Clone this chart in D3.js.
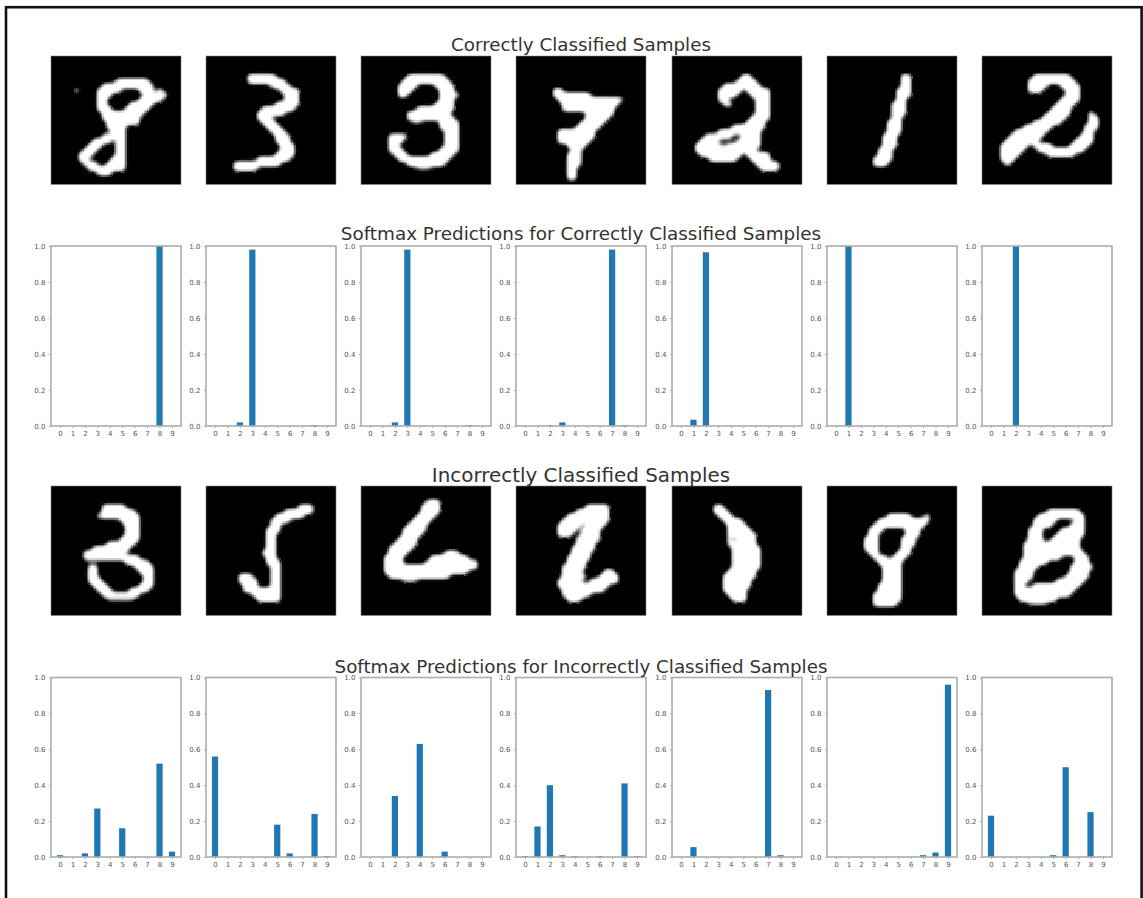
<!DOCTYPE html>
<html><head><meta charset="utf-8">
<script src="https://cdn.jsdelivr.net/npm/d3@7"></script>
<style>html,body{margin:0;padding:0;background:#fff;overflow:hidden}svg{display:block}</style>
</head><body><div id="chart"></div>
<script>
// Class labels and titles
const classes = [0,1,2,3,4,5,6,7,8,9];
const yTicks = [0,0.2,0.4,0.6,0.8,1.0];
const titles = ["Correctly Classified Samples","Softmax Predictions for Correctly Classified Samples","Incorrectly Classified Samples","Softmax Predictions for Incorrectly Classified Samples"];

// Softmax predictions
const correctPreds = [
 [0,0,0,0,0,0,0,0,1.0,0],
 [0,0,.02,.98,0,0,0,0,.005,0],
 [0,0,.02,.98,0,0,0,0,.005,0],
 [0,0,.005,.02,0,0,0,.98,.005,0],
 [0,.035,.965,0,0,0,0,0,0,0],
 [0,1.0,0,0,0,0,0,0,0,0],
 [0,0,1.0,0,0,0,0,0,0,0]
];
const incorrectPreds = [
 [.01,0,.02,.27,0,.16,0,0,.52,.03],
 [.56,0,0,0,0,.18,.02,0,.24,.005],
 [0,0,.34,0,.63,0,.03,0,0,0],
 [.005,.17,.40,.01,.005,0,.005,0,.41,.005],
 [0,.055,0,0,0,0,0,.93,.01,0],
 [0,0,0,0,0,0,0,.01,.025,.96],
 [.23,0,0,0,0,.01,.50,0,.25,0]
];

// 28x28 digit images: one entry per row, lit column spans; "g" marks a dim pixel
const correctDigits = [
 "|||||14-20|11-21|5,10-14,19-21,23|10-12,20-24|10-11,19-23|10-11,17-21|10-12,16-20|11-19|11-18|12-18|12-15|13-15|11-15|9-12,14-15|8-10,14-15|7-9,14-15|6-8,14-15|6-7,13-15|7-9,12-15|8-15|10-12",
 "||||9-14|9-16|14-17|16-19|17-19|17-19|15-19|12-18|11-16|11-13|12-14|13-15|14-16|15-17|15-17|16-18|16-18|15-18|11-17|6-15|6-10",
 "||||10-17|9-18|8-11,16-19|8-10,17-19|8-9,17-20|17-19|16-19|12-19|10-18|10-19|11g,12g,17-20|17-20|18-20|6-9,18-20|6-8,18-20|6-7,18-20|6-8,17-20|7-9,15-19|8-18|10-17|12g-14g",
 "|||||||8-9|8-15|9-22|10-21|10-20|15-20|15-19|14-18|13-17|9-16|9-16|9-15|11-14|12-13|11-13|11-13|11-13|11-12|11-12|11-12",
 "||||15-16|14-17|11-18|10-14,16-20|10-13,17-20|10-11,18-20|11-12,18-20|18-20|18-20|17-20|16-19|13-19|10-18|7-12,15-18|6-9,14-18|5-9,10g,11g,12-18|5-17|6-14,16-20|8-13,17-20|18-22|19-22",
 "||||16-17|16-17|16-17|15-17|15-17|15-16|14-16|14-16|14-16|14-15|13-15|13-15|13-15|12-14|12-14|12-14|11-13|11-13|10-13|10-12",
 "||||11-18|10-19|10-13,17-20|10-12,18-20|18-20|17-20|16-19|15-18|14-18,23|13-17,23-24|11-16,23-24|9-14,22-24|7-13,22-23|6-12,21-23|5-11,20-23|4-9,11-14,19-22|4-8,12-21|4-7,14-19|4-6|5"
];
const incorrectDigits = [
 "||||11-15|11-17|10-18|15-18|16-18|16-18|16-18|15-18|12-17|9-16|7-15|7-18|16-20|8-9,18-21|8-9,19-21|8-9,20-21|8-10,20-21|9-11,19-21|10-12,17-20|11-18|12g-17g",
 "||||20-22|17-22|15-20|14-17|14-15|13-15|13-14|13-14|13-14|13-14|12-14|13-14|13-15|14-15|14-15|7-9,14-15|7-10,14-15|8-10,14-15|8-15|10-15|11-15",
 "|||14-16|13-16|13-16|12-15|11-14|10-13|9-13|9-12|8-11|7-11|6-10|6-9,18-20|5-8,15-22|5-8,14-24|5-24|5-22|6-18|9g-11g",
 "||||15-19|13-19|11-19|10-19|9-13,15-18|9-12,14-17|9-11,14-17|13-17|13-16|12-16|12-15|11-15|11-14|10-14|10-13,19-20|10-14,18-21|9-13,16-21|9-19|10-18|10-15|11-13",
 "||||9-10|9-11|10-12|11-14|12-15|12-16|12-17|12,14-17|12-17|13-18|13-18|13-18|13-18|13-18|12-17|11-17|11-16|11-16|11-15|12-15|13-15",
 "||||||13-17,21|11-21|10-20|9-11,17-19|9-10,17-19|8-10,16-18|8-10,16-18|8-10,16-17|9-10,15-17|10-12,14-16|11-15|12-15|12-15|12-15|12-15|11-15|11-12,13g,14-15|10-15|10-15|10-14",
 "|||||14-20|12-21|11-15,20-21|11-14,19-21|10-12,17-21|10-12,16-21|10-12,15-20|9-20|9-20|9-21|9-16,20-22|8-13,20-22|8-11,19-23|7-10,19-22|7-10,18-22|7-9,16-21|7-8,11-20|7-19|7-18|8-15|10g-13g"
];

const W = 1143, H = 898;
const panelLefts = [51,206,361,516,672,827,982];
const panelW = 130;
const rowsY = {img1:[56,184.5], bar1:[246,426], img2:[486,615.5], bar2:[677.5,857]};
const SUB = 3;            // sub-cells per image pixel, for the soft upscaled look

const svg = d3.select("#chart").append("svg").attr("width",W).attr("height",H);

svg.append("rect").attr("width",W).attr("height",H).attr("fill","#fff");
svg.append("rect").attr("x",6).attr("y",7.2).attr("width",1135.6).attr("height",H+20)
  .attr("fill","none").attr("stroke","#111").attr("stroke-width",2.6);

const root = svg.append("g");

function digitGrid(str){
  const n = 28*SUB, data = new Float32Array(n*n);
  str.split("|").forEach((row,r)=>{
    if(!row) return;
    row.split(",").forEach(tok=>{
      const dim = tok.includes("g");
      const p = tok.replace(/g/g,"").split("-").map(Number);
      const a=p[0], b=p.length>1?p[1]:p[0];
      for(let c=a;c<=b;c++) for(let i=0;i<SUB;i++) for(let j=0;j<SUB;j++)
        data[(r*SUB+i)*n + c*SUB+j] = dim?0.5:1;
    });
  });
  d3.blur2({data,width:n,height:n},1.2);
  const shade = d3.scaleLinear().domain([0.18,0.78]).range([0,1]).clamp(true);
  const cells=[];
  data.forEach((v,k)=>{ const s=shade(v); if(s>0.02) cells.push({r:Math.floor(k/n),c:k%n,v:s}); });
  return cells;
}

function drawImages(digits,[y0,y1]){
  const idx = d3.range(28*SUB);
  digits.forEach((d,i)=>{
    const x = d3.scaleBand().domain(idx).range([panelLefts[i],panelLefts[i]+panelW]);
    const y = d3.scaleBand().domain(idx).range([y0,y1]);
    const g = root.append("g");
    g.append("rect").attr("x",panelLefts[i]).attr("y",y0).attr("width",panelW).attr("height",y1-y0).attr("fill","#000");
    g.append("g").attr("shape-rendering","crispEdges").selectAll("rect").data(digitGrid(d)).join("rect")
      .attr("x",c=>x(c.c)).attr("y",c=>y(c.r))
      .attr("width",x.bandwidth()+0.4).attr("height",y.bandwidth()+0.4)
      .attr("fill",c=>d3.interpolateGreys(1-c.v));
    g.append("rect").attr("x",panelLefts[i]).attr("y",y0).attr("width",panelW).attr("height",y1-y0)
      .attr("fill","none").attr("stroke","#888").attr("stroke-width",0.6);
  });
}

function drawBars(preds,[y0,y1]){
  preds.forEach((vals,i)=>{
    const x = d3.scaleLinear().domain([-0.725,9.725]).range([panelLefts[i],panelLefts[i]+panelW]);
    const y = d3.scaleLinear().domain([0,1]).range([y1,y0]);
    const g = root.append("g");
    g.selectAll("rect").data(vals).join("rect")
      .attr("x",(d,k)=>x(k-0.25)).attr("width",x(0.5)-x(0))
      .attr("y",d=>y(d)).attr("height",d=>y(0)-y(d)).attr("fill","#1f77b4");
    const ax = g.append("g").attr("transform",`translate(0,${y1})`)
      .call(d3.axisBottom(x).tickValues(classes).tickFormat(d3.format("d")).tickSize(2).tickPadding(3.5));
    const ay = g.append("g").attr("transform",`translate(${panelLefts[i]},0)`)
      .call(d3.axisLeft(y).tickValues(yTicks).tickFormat(d3.format(".1f")).tickSize(2).tickPadding(3.5));
    [ax,ay].forEach(a=>{
      a.select(".domain").remove();
      a.selectAll("line").attr("stroke","#777").attr("stroke-width",0.6);
      a.selectAll("text").attr("fill","#555").attr("font-family","'DejaVu Sans'").attr("font-size",7);
    });
    g.append("rect").attr("x",panelLefts[i]).attr("y",y0).attr("width",panelW).attr("height",y1-y0)
      .attr("fill","none").attr("stroke","#adadad").attr("stroke-width",1.6);
  });
}

drawImages(correctDigits,rowsY.img1);
drawBars(correctPreds,rowsY.bar1);
drawImages(incorrectDigits,rowsY.img2);
drawBars(incorrectPreds,rowsY.bar2);

const titleLayout = [[581,51,18.3],[581,240,18.35],[581,481.5,19.9],[581,672.5,18.3]];
root.append("g").selectAll("text").data(titles).join("text")
  .attr("x",(d,i)=>titleLayout[i][0]).attr("y",(d,i)=>titleLayout[i][1])
  .attr("font-size",(d,i)=>titleLayout[i][2])
  .attr("text-anchor","middle").attr("font-family","'DejaVu Sans'").attr("fill","#333")
  .text(d=>d);
</script></body></html>
